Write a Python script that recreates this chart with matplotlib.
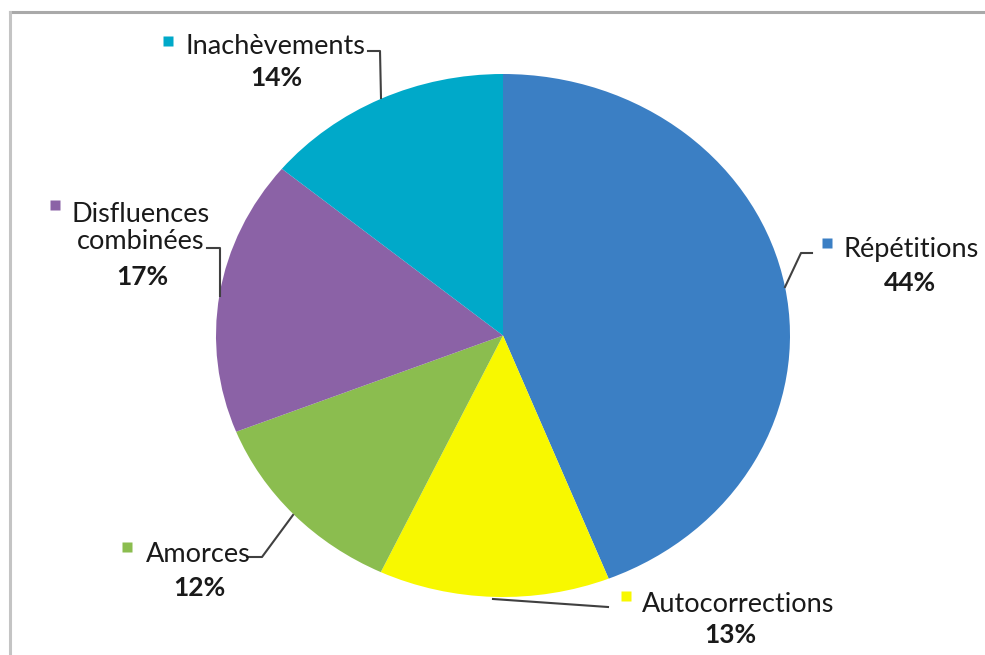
import matplotlib
matplotlib.use('Agg')
import matplotlib.pyplot as plt
from matplotlib.lines import Line2D

plt.rcParams['font.family'] = ['Lato', 'DejaVu Sans']

# Data (clockwise from 12 o'clock)
categories = ['Répétitions', 'Autocorrections', 'Amorces', 'Disfluences\ncombinées', 'Inachèvements']
values     = [44, 13, 12, 17, 14]
colors     = ['#3b7fc4', '#f8f800', '#8bbd4f', '#8b62a6', '#00a9c9']

# Label layout in pixel coords: marker position, text anchor, percent anchor
marker_pos = [(827, 243), (626, 596), (127, 547), (55, 205), (168, 41)]
text_pos   = [(843, 250), (642, 604), (146, 555), (141, 228), (186, 47)]
text_ha    = ['left', 'left', 'left', 'center', 'left']
pct_pos    = [(910, 283), (730, 635), (199, 588), (142, 277), (276, 78)]
leaders    = [
    [(812, 253), (801, 253), (785, 287)],
    [(608, 607), (493, 599)],
    [(247, 557), (262, 557), (293, 515)],
    [(207, 248), (220, 248), (220, 296)],
    [(368, 51), (380, 51), (381, 98)],
]

W, H = 985, 655
cx, cy, rx, ry = 503, 335.5, 287, 261.5

fig = plt.figure(figsize=(W / 100, H / 100), dpi=100)
fig.patch.set_facecolor('white')

# pie axes, stretched so the unit circle becomes the ellipse in the picture
ax = fig.add_axes([0, 0, 1, 1])
ax.pie(values, colors=colors, startangle=90, counterclock=False,
       wedgeprops=dict(linewidth=0))
ax.set_aspect('auto')
ax.set_xlim(-cx / rx, (W - cx) / rx)
ax.set_ylim(-(H - cy) / ry, cy / ry)
ax.axis('off')

# overlay axes in pixel units for labels and frame
ov = fig.add_axes([0, 0, 1, 1])
ov.set_xlim(0, W)
ov.set_ylim(H, 0)
ov.axis('off')
ov.patch.set_alpha(0)

# gray frame (top and left edges visible)
ov.add_line(Line2D([10, W], [12, 12], color='#a9a9a9', lw=2.2))
ov.add_line(Line2D([10, 10], [12, H], color='#c4c4c4', lw=2.2))

for i, cat in enumerate(categories):
    mx, my = marker_pos[i]
    ov.plot(mx, my, marker='s', ms=7, color=colors[i], mec='none')
    ov.text(text_pos[i][0], text_pos[i][1], cat, ha=text_ha[i], va='center',
            fontsize=19.5, color='#1a1a1a', linespacing=1.1)
    ov.text(pct_pos[i][0], pct_pos[i][1], '%d%%' % values[i], ha='center', va='center',
            fontsize=19, fontweight='bold', color='#1a1a1a')
    xs = [p[0] for p in leaders[i]]
    ys = [p[1] for p in leaders[i]]
    ov.plot(xs, ys, color='#404040', lw=1.5)

fig.savefig('out.png', dpi=100)
